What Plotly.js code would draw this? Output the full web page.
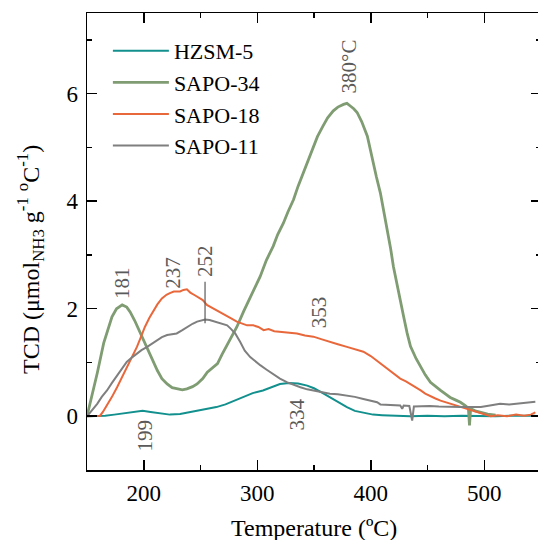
<!DOCTYPE html>
<html>
<head>
<meta charset="utf-8">
<script src="https://cdn.plot.ly/plotly-3.0.1.min.js"></script>
<style>
html,body{margin:0;padding:0;overflow:hidden;background:#fff;}
#chart{width:541px;height:540px;}
</style>
</head>
<body>
<div id="chart"></div>
<script>
// ---- data ----
var seriesNames = ["HZSM-5", "SAPO-34", "SAPO-18", "SAPO-11"];
var seriesColors = ["#12908e", "#7f9c72", "#e8683c", "#7f7f7f"];

var hzsmX = [150,158,166,174,182,190,199,206,214,223,232,240,248,256,264,272,280,288,296,305,313,320,328,336,344,350,357,364,371,379,386,394,402,410,420,435,450,465,480,495,510,525,545];
var hzsmY = [0,0,0.01,0.03,0.05,0.08,0.1,0.08,0.05,0.03,0.04,0.07,0.1,0.13,0.17,0.22,0.29,0.36,0.43,0.48,0.55,0.6,0.62,0.61,0.57,0.52,0.44,0.35,0.26,0.17,0.1,0.06,0.03,0.02,0.01,0,0.01,0,0.01,0,0,0.01,0.01];

var s34X = [150,154,159,164.7,168,172,176,181,185,188,192,197,204,212,216,220.6,225,229,234,238,243,247,252,256,261,265,269,273.5,278,282,288,294,302.6,308,314,318,323,327,332,336,340.6,345,349,353,358,362,367,371,376,379,382,385,388,392,397,402,405,408.5,411.5,414.7,417.5,420,423,426,429,432,435,440,444,448,452.6,457,461.5,466,470,475,479,483,486,487,488,492,497,503,510];
var s34Y = [0,0.35,0.8,1.36,1.6,1.85,2.0,2.07,2.03,1.94,1.78,1.54,1.23,0.85,0.7,0.6,0.53,0.51,0.49,0.51,0.55,0.6,0.7,0.82,0.9,0.98,1.15,1.32,1.5,1.66,1.95,2.22,2.6,2.9,3.16,3.38,3.59,3.8,4.03,4.28,4.53,4.78,5.02,5.2,5.4,5.55,5.68,5.75,5.8,5.82,5.77,5.72,5.65,5.48,5.21,4.71,4.45,4.15,3.82,3.47,3.12,2.78,2.45,2.12,1.85,1.55,1.3,1.07,0.91,0.77,0.63,0.55,0.48,0.41,0.35,0.3,0.26,0.2,0.15,-0.17,0.14,0.1,0.07,0.04,0.02];

var s18X = [150,155,161.5,164,167.6,172,176.5,181,185,190,194,198,201,205,209,212,216,220,223,226.5,232,235,238,241,245,249.7,252,255.6,260,264,268,273,277,282,288,291,296.5,301,305.6,310,315,320,327,335,342,349.5,357,364,371,379,386,393.5,400,405.6,408.5,413,417,422,426,431,435,440,444,448,452.6,457,461.5,466,470,475,479,484,488,492,497,501,505.6,512,520,528,535,541,545];
var s18Y = [0,0,0.01,0.08,0.2,0.36,0.54,0.73,0.92,1.12,1.29,1.5,1.66,1.83,1.97,2.08,2.19,2.26,2.29,2.32,2.32,2.35,2.36,2.3,2.25,2.19,2.16,2.07,2.02,1.97,1.93,1.88,1.82,1.76,1.72,1.69,1.69,1.66,1.6,1.62,1.58,1.57,1.56,1.54,1.5,1.48,1.43,1.38,1.34,1.29,1.25,1.2,1.12,1.03,0.98,0.91,0.85,0.77,0.7,0.65,0.6,0.54,0.48,0.42,0.37,0.33,0.29,0.26,0.23,0.2,0.17,0.14,0.12,0.09,0.06,0.03,0,0.02,0,0.03,0.01,0.03,0.07];

var s11X = [150,154,159,163,167.6,172,176.5,181,185,190,194,198,203,207,212,216,220.6,225,229,234,238,243,247,251,254,258,261,264.7,269,273.5,277,280.6,285,289,293.8,298,302.6,308,314,320,326.5,332,338,344,349.5,357,364,371,379,386,393.5,400,405.6,408.5,415,420,426,427.7,429,434,436.5,438,445,452,460,470,479,488,497,505,514,522,532,538,545];
var s11Y = [0,0.1,0.23,0.36,0.48,0.62,0.76,0.9,1.01,1.1,1.17,1.23,1.29,1.35,1.41,1.47,1.51,1.52,1.54,1.6,1.66,1.72,1.76,1.79,1.8,1.79,1.77,1.76,1.73,1.69,1.62,1.54,1.38,1.22,1.1,1.02,0.95,0.87,0.79,0.7,0.63,0.58,0.54,0.5,0.48,0.45,0.42,0.41,0.39,0.36,0.32,0.28,0.26,0.22,0.21,0.2,0.2,0.14,0.2,0.19,-0.08,0.18,0.19,0.19,0.18,0.17,0.17,0.17,0.17,0.2,0.23,0.22,0.24,0.26,0.27];

var peakLabels = ["181", "237", "252", "353", "334", "199", "380°C"];
var peakLabelX = [180.9, 226.2, 254.1, 355, 335, 201, 380.6];
var peakLabelY = [2.48, 2.68, 2.89, 1.93, 0.03, -0.36, 6.5];

var xTickVals = [200, 300, 400, 500];
var yTickVals = [0, 2, 4, 6];

// ---- traces ----
var xs = [hzsmX, s34X, s18X, s11X];
var ys = [hzsmY, s34Y, s18Y, s11Y];
var widths = [2, 2.8, 2, 2];
var traces = seriesNames.map(function(n, i){
  return {x: xs[i], y: ys[i], name: n, type: "scatter", mode: "lines",
          line: {color: seriesColors[i], width: widths[i]}};
});

var serif = "Liberation Serif, Times New Roman, serif";
var annotations = peakLabels.map(function(t, i){
  return {x: peakLabelX[i], y: peakLabelY[i], xref: "x", yref: "y", text: t,
          textangle: -90, showarrow: false, xanchor: "center", yanchor: "middle",
          font: {family: serif, size: 21, color: "#5a5a5a"}};
});
annotations.push({xref: "paper", yref: "paper", x: 0.5, y: -0.128, text: "Temperature (ºC)",
  showarrow: false, xanchor: "center", yanchor: "middle", font: {family: serif, size: 24, color: "#000"}});
annotations.push({xref: "paper", yref: "paper", x: -0.125, y: 0.46,
  text: "TCD (μmol<sub>NH3</sub> g<sup>-1</sup> <sup>o</sup>C<sup>-1</sup>)", textangle: -90,
  showarrow: false, xanchor: "center", yanchor: "middle", font: {family: serif, size: 24, color: "#000"}});

var axisCommon = {
  showline: true, linecolor: "#000", linewidth: 1.5, mirror: "ticks",
  ticks: "inside", ticklen: 10, tickwidth: 1.5, tickcolor: "#000",
  showgrid: false, zeroline: false,
  tickfont: {family: serif, size: 23, color: "#000"}
};

var layout = {
  width: 541, height: 540,
  margin: {l: 87, r: 0, t: 13, b: 70},
  paper_bgcolor: "#fff", plot_bgcolor: "#fff",
  xaxis: Object.assign({}, axisCommon, {range: [150, 550], tickvals: xTickVals, ticklabelstandoff: 2,
    minor: {dtick: 50, tick0: 0, ticks: "inside", ticklen: 5, tickwidth: 1.5, tickcolor: "#000"}}),
  yaxis: Object.assign({}, axisCommon, {range: [-1, 7.5], tickvals: yTickVals, ticklabelstandoff: 3,
    minor: {dtick: 1, tick0: 0, ticks: "inside", ticklen: 5, tickwidth: 1.5, tickcolor: "#000"}}),
  showlegend: true,
  legend: {x: 0.046, y: 0.963, xanchor: "left", yanchor: "top", bgcolor: "rgba(0,0,0,0)",
           font: {family: serif, size: 22, color: "#000"}, itemwidth: 56, tracegroupgap: 0},
  annotations: annotations,
  shapes: [{type: "line", xref: "x", yref: "y", x0: 254, x1: 254, y0: 1.73, y1: 2.5,
            line: {color: "#5a5a5a", width: 1.2}}]
};

Plotly.newPlot("chart", traces, layout, {displayModeBar: false, staticPlot: true});
</script>
</body>
</html>
